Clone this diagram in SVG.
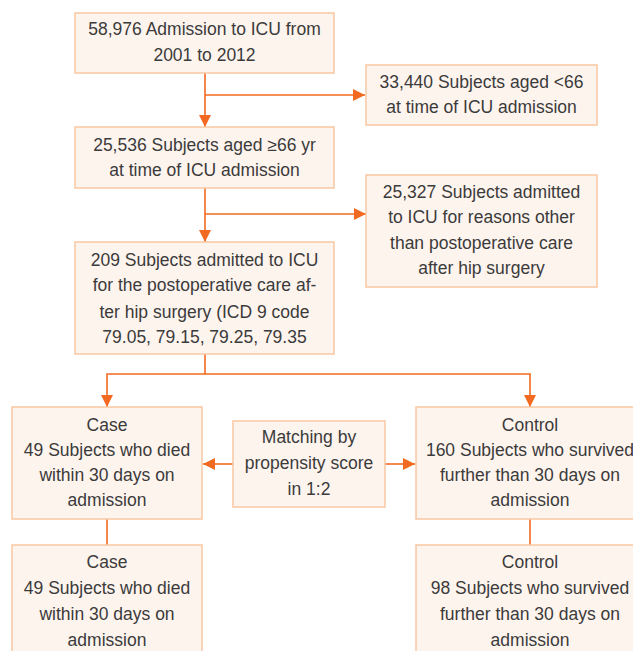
<svg xmlns="http://www.w3.org/2000/svg" width="633" height="651" viewBox="0 0 633 651">
<defs>
<style>
.box{fill:#fef4ee;stroke:#f9c7a2;stroke-width:1.5}
.t{font-family:"Liberation Sans",Arial,sans-serif;font-size:17.5px;fill:#3b3b3b;text-anchor:middle}
.c{fill:none;stroke:#f26a21;stroke-width:1.6}
</style>
<marker id="ah" viewBox="0 0 12 12" refX="12" refY="6" markerWidth="12" markerHeight="12" markerUnits="userSpaceOnUse" orient="auto">
<path d="M0,0 L12,6 L0,12 Z" fill="#f26a21"/>
</marker>
</defs>
<rect width="633" height="651" fill="#ffffff"/>
<g id="connectors">
<path class="c" d="M205,73 V127" marker-end="url(#ah)"/>
<path class="c" d="M205,95 H365" marker-end="url(#ah)"/>
<path class="c" d="M205,188 V242" marker-end="url(#ah)"/>
<path class="c" d="M205,214 H366" marker-end="url(#ah)"/>
<path class="c" d="M205,354 V374 H107 V407" marker-end="url(#ah)"/>
<path class="c" d="M205,374 H530 V407" marker-end="url(#ah)"/>
<path class="c" d="M233,464 H203" marker-end="url(#ah)"/>
<path class="c" d="M385,464 H415" marker-end="url(#ah)"/>
<path class="c" d="M107,519 V545"/>
<path class="c" d="M530,519 V545"/>
</g>
<g id="n1"><rect class="box" x="75" y="13" width="259" height="60"/>
<text class="t" x="204.5" y="35">58,976 Admission to ICU from</text>
<text class="t" x="204.5" y="61">2001 to 2012</text></g>
<g id="n2"><rect class="box" x="366" y="65" width="231" height="60"/>
<text class="t" x="481.5" y="88">33,440 Subjects aged &lt;66</text>
<text class="t" x="481.5" y="113">at time of ICU admission</text></g>
<g id="n3"><rect class="box" x="75" y="127" width="259" height="61"/>
<text class="t" x="204.5" y="151">25,536 Subjects aged ≥66 yr</text>
<text class="t" x="204.5" y="176">at time of ICU admission</text></g>
<g id="n4"><rect class="box" x="366" y="175" width="231" height="112"/>
<text class="t" x="481.5" y="198">25,327 Subjects admitted</text>
<text class="t" x="481.5" y="223">to ICU for reasons other</text>
<text class="t" x="481.5" y="249">than postoperative care</text>
<text class="t" x="481.5" y="274">after hip surgery</text></g>
<g id="n5"><rect class="box" x="75" y="242" width="259" height="112"/>
<text class="t" x="204.5" y="266">209 Subjects admitted to ICU</text>
<text class="t" x="204.5" y="291">for the postoperative care af-</text>
<text class="t" x="204.5" y="318">ter hip surgery (ICD 9 code</text>
<text class="t" x="204.5" y="343">79.05, 79.15, 79.25, 79.35</text></g>
<g id="n6"><rect class="box" x="12" y="407" width="190" height="112"/>
<text class="t" x="107" y="431">Case</text>
<text class="t" x="107" y="456">49 Subjects who died</text>
<text class="t" x="107" y="481">within 30 days on</text>
<text class="t" x="107" y="506">admission</text></g>
<g id="n7"><rect class="box" x="233" y="421" width="152" height="86"/>
<text class="t" x="309" y="443">Matching by</text>
<text class="t" x="309" y="469">propensity score</text>
<text class="t" x="309" y="495">in 1:2</text></g>
<g id="n8"><rect class="box" x="416" y="407" width="230" height="112"/>
<text class="t" x="530" y="431">Control</text>
<text class="t" x="530" y="456">160 Subjects who survived</text>
<text class="t" x="530" y="481">further than 30 days on</text>
<text class="t" x="530" y="506">admission</text></g>
<g id="n9"><rect class="box" x="12" y="545" width="190" height="112"/>
<text class="t" x="107" y="568">Case</text>
<text class="t" x="107" y="594">49 Subjects who died</text>
<text class="t" x="107" y="620">within 30 days on</text>
<text class="t" x="107" y="646">admission</text></g>
<g id="n10"><rect class="box" x="416" y="545" width="230" height="112"/>
<text class="t" x="530" y="568">Control</text>
<text class="t" x="530" y="594">98 Subjects who survived</text>
<text class="t" x="530" y="620">further than 30 days on</text>
<text class="t" x="530" y="646">admission</text></g>
</svg>
